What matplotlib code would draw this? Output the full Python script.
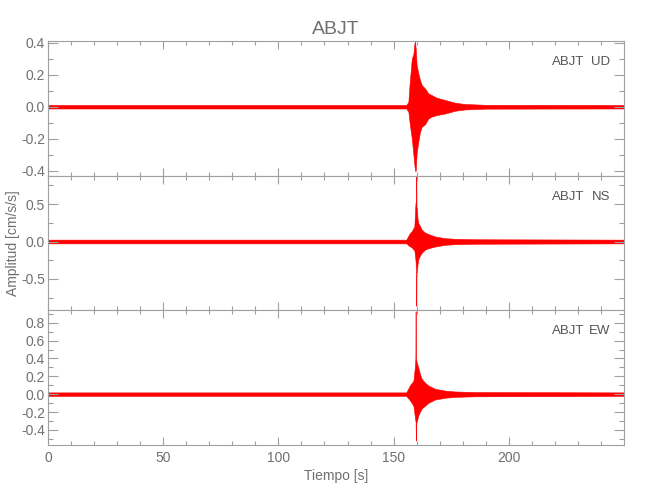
import numpy as np
import matplotlib.pyplot as plt
from matplotlib.ticker import MultipleLocator

plt.rcParams['font.family'] = ['Liberation Sans', 'DejaVu Sans']
plt.rcParams['axes.unicode_minus'] = False

station = "ABJT"
comps = ["UD", "NS", "EW"]

# envelope of each trace: time [s], upper, lower [cm/s/s]
t_ud = [0, 155.5, 156.4, 156.9, 157.9, 158.6, 159.0, 159.3, 159.6, 160.0, 160.7,
        161.4, 162.2, 163.6, 165.1, 166.5, 168.7, 172.4, 176.7, 181.0, 190, 249.99]
up_ud = [0.011, 0.011, 0.03, 0.135, 0.30, 0.33, 0.39, 0.41, 0.36, 0.26, 0.21,
         0.17, 0.135, 0.115, 0.083, 0.073, 0.056, 0.042, 0.025, 0.017, 0.012, 0.011]
lo_ud = [-0.011, -0.011, -0.03, -0.094, -0.20, -0.30, -0.36, -0.40, -0.40, -0.29, -0.22,
         -0.16, -0.125, -0.11, -0.073, -0.062, -0.052, -0.042, -0.025, -0.017, -0.012, -0.011]

t_ns = [0, 155.5, 156.8, 157.9, 159.0, 159.5, 159.75, 159.85, 159.95, 160.1, 160.4,
        160.7, 161.4, 162.2, 163.6, 165.1, 168.0, 172.4, 176.7, 185.4, 249.99]
up_ns = [0.025, 0.025, 0.10, 0.14, 0.20, 0.52, 0.50, 0.88, 0.45, 0.45, 0.30,
         0.25, 0.21, 0.16, 0.12, 0.10, 0.067, 0.044, 0.036, 0.03, 0.025]
lo_ns = [-0.025, -0.025, -0.06, -0.08, -0.12, -0.25, -0.40, -0.86, -0.41, -0.41, -0.30,
         -0.24, -0.19, -0.15, -0.11, -0.09, -0.067, -0.044, -0.036, -0.03, -0.025]

t_ew = [0, 155.5, 157.1, 158.6, 159.2, 159.45, 159.55, 159.65, 159.75, 160.0, 160.7,
        161.4, 162.2, 163.6, 165.1, 168.0, 172.4, 176.7, 185.4, 249.99]
up_ew = [0.02, 0.02, 0.10, 0.15, 0.30, 0.40, 0.93, 0.40, 0.40, 0.36, 0.30,
         0.23, 0.17, 0.13, 0.097, 0.06, 0.04, 0.03, 0.024, 0.02]
lo_ew = [-0.02, -0.02, -0.07, -0.13, -0.25, -0.30, -0.30, -0.52, -0.35, -0.31, -0.24,
         -0.20, -0.16, -0.13, -0.097, -0.06, -0.04, -0.03, -0.024, -0.02]

traces = [(t_ud, up_ud, lo_ud), (t_ns, up_ns, lo_ns), (t_ew, up_ew, lo_ew)]
ylims = [(-0.43, 0.41), (-0.92, 0.88), (-0.57, 0.94)]
ymajor = [0.2, 0.5, 0.2]
yminor = [0.1, 0.25, 0.1]

gray = '#a0a0a0'
tgray = '#707070'

fig, axes = plt.subplots(3, 1, sharex=True, figsize=(6.5, 5), dpi=100)
fig.subplots_adjust(left=0.0738, right=0.96, bottom=0.11, top=0.918, hspace=0)

for i, ax in enumerate(axes):
    t, up, lo = traces[i]
    ax.fill_between(t, lo, up, color='red', lw=0.4)
    ax.set_xlim(0, 249.99)
    ax.set_ylim(*ylims[i])
    ax.xaxis.set_major_locator(MultipleLocator(50))
    ax.xaxis.set_minor_locator(MultipleLocator(10))
    ax.yaxis.set_major_locator(MultipleLocator(ymajor[i]))
    ax.yaxis.set_minor_locator(MultipleLocator(yminor[i]))
    ax.yaxis.set_major_formatter(plt.FormatStrFormatter('%.1f'))
    ax.tick_params(which='both', direction='in', top=True, right=True,
                   color=gray, labelcolor=tgray, labelsize=10, width=0.8)
    ax.tick_params(axis='x', which='major', length=6, pad=4)
    ax.tick_params(axis='x', which='minor', length=3)
    ax.tick_params(axis='y', which='major', length=7, pad=2)
    ax.tick_params(axis='y', which='minor', length=3.5)
    for s in ax.spines.values():
        s.set_color(gray)
        s.set_linewidth(0.8)
    ax.text(0.9306, 0.843, station, transform=ax.transAxes, ha='right', va='center',
            color='#555555', fontsize=9.5)
    ax.text(0.976, 0.843, comps[i], transform=ax.transAxes, ha='right', va='center',
            color='#555555', fontsize=9.5)

axes[-1].set_xlabel("Tiempo [s]", color=tgray, fontsize=10, labelpad=3)
fig.text(0.02, 0.514, "Amplitud [cm/s/s]", rotation=90, ha='center', va='center',
         color=tgray, fontsize=10)
fig.suptitle(station, x=0.517, y=0.957, color=tgray, fontsize=14)

fig.savefig("out.png", dpi=100)
